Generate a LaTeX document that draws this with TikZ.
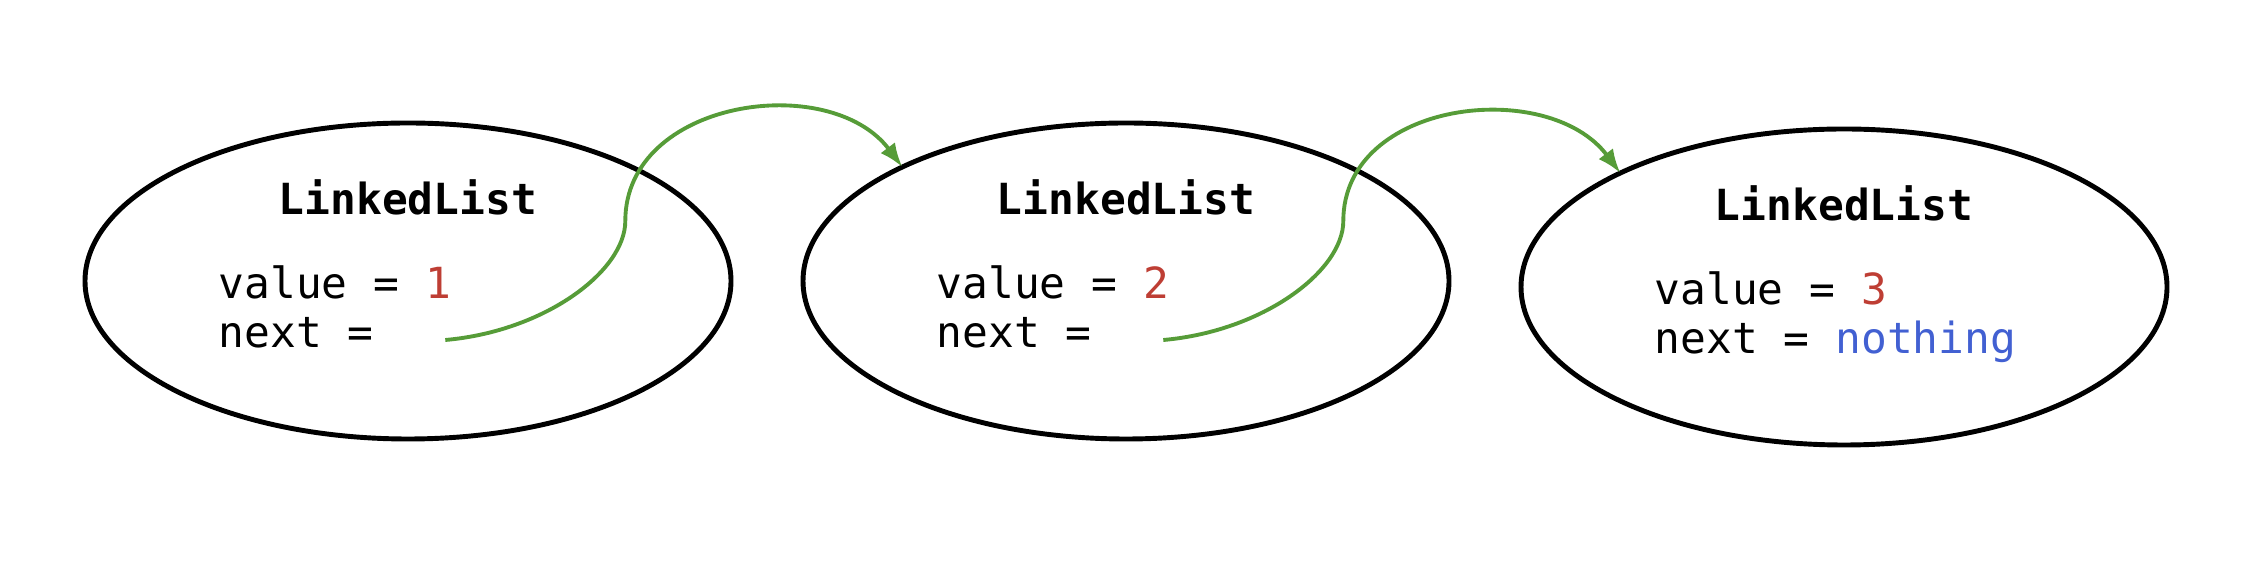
\documentclass[tikz,border=0pt]{standalone}
\usepackage{fontspec}
\setmonofont{DejaVu Sans Mono}
\usepackage{tikz}
\usetikzlibrary{arrows.meta,positioning,shapes.geometric}
\definecolor{numred}{RGB}{190,62,52}
\definecolor{nilblue}{RGB}{66,96,210}
\definecolor{linkgreen}{RGB}{86,156,56}
\tikzstyle{listnode}=[
	ellipse,
	draw=black,
	line width=1.4pt,
	minimum width=6.46cm,
	minimum height=3.16cm,
	inner sep=0pt,
	outer sep=0pt,
	node distance=7.2mm
]
\tikzstyle{tname}=[
	font=\ttfamily\bfseries\fontsize{12.2}{14}\selectfont,
	inner sep=0pt,
	anchor=base
]
\tikzstyle{tfield}=[
	font=\ttfamily\fontsize{12.2}{14}\selectfont,
	inner sep=0pt,
	anchor=base west
]
\tikzstyle{link}=[
	-{Latex[length=2.4mm,width=1.8mm]},
	draw=linkgreen,
	line width=1.1pt
]

\begin{document}
\begin{tikzpicture}
\useasboundingbox (0,0) rectangle (22.52,5.66);

\node[listnode] (l1) at (4.08,2.85) {};
\node[listnode, right=of l1] (l2) {};
\node[listnode, right=of l2, yshift=-0.6mm] (l3) {};

\node[tname] (t1) at ([yshift=6.6mm]l1.center) {LinkedList};
\node[tfield] (v1) at ([xshift=-19mm,yshift=-1.8mm]l1.center) {value = \textcolor{numred}{1}};
\node[tfield] (n1) at ([yshift=-4.9mm]v1.base west) {next =};

\node[tname] (t2) at ([yshift=6.6mm]l2.center) {LinkedList};
\node[tfield] (v2) at ([xshift=-19mm,yshift=-1.8mm]l2.center) {value = \textcolor{numred}{2}};
\node[tfield] (n2) at ([yshift=-4.9mm]v2.base west) {next =};

\node[tname] (t3) at ([yshift=6.6mm]l3.center) {LinkedList};
\node[tfield] (v3) at ([xshift=-19mm,yshift=-1.8mm]l3.center) {value = \textcolor{numred}{3}};
\node[tfield] (n3) at ([yshift=-4.9mm]v3.base west) {next = \textcolor{nilblue}{nothing}};

\coordinate (p1) at ([xshift=7.1mm,yshift=0.8mm]n1.base east);
\coordinate (p2) at ([xshift=7.1mm,yshift=0.8mm]n2.base east);

\draw[link] (p1) to[out=5,in=-90,out distance=1cm,in distance=5mm] ++(1.8,1.19) to[out=90,in=127,looseness=1.1] (l2.153);
\draw[link] (p2) to[out=5,in=-90,out distance=1cm,in distance=5mm] ++(1.8,1.19) to[out=90,in=127,looseness=1.1] (l3.153);

\end{tikzpicture}
\end{document}
